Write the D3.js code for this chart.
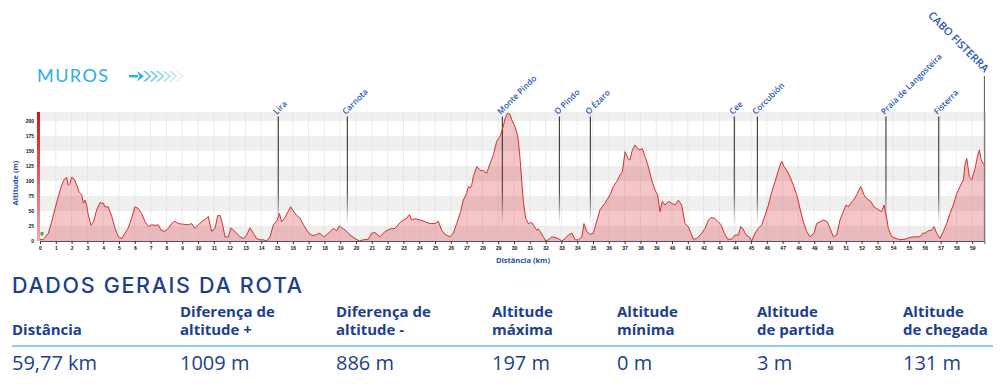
<!DOCTYPE html>
<html><head><meta charset="utf-8">
<script src="https://cdn.jsdelivr.net/npm/d3@7"></script>
<style>
html,body{margin:0;padding:0;background:#fff;}
svg{display:block;}
</style></head>
<body>
<svg id="chart" width="1004" height="390"></svg>
<script>
// ---------- DATA ----------
const distanceKm = [0,0.2,0.53,0.74,0.95,1.16,1.37,1.54,1.69,1.79,1.9,2.0,2.17,2.32,2.49,2.64,2.74,2.85,2.95,3.06,3.23,3.38,3.59,3.8,4.01,4.11,4.32,4.54,4.75,4.96,5.17,5.38,5.59,5.8,6.01,6.22,6.43,6.65,6.86,7.07,7.28,7.49,7.66,7.91,8.12,8.33,8.54,8.76,9.07,9.39,9.6,9.81,10.02,10.23,10.55,10.65,10.86,11.08,11.24,11.39,11.54,11.71,11.92,12.09,12.24,12.45,12.66,12.87,13.08,13.29,13.5,13.71,13.92,14.13,14.35,14.56,14.77,15.02,15.15,15.29,15.5,15.72,15.86,16.03,16.24,16.46,16.67,16.88,17.09,17.3,17.51,17.72,17.93,18.14,18.36,18.57,18.78,18.94,19.16,19.37,19.62,19.94,20.21,20.46,20.78,20.99,21.2,21.52,21.84,22.15,22.47,22.79,23.0,23.21,23.38,23.52,23.73,24.05,24.37,24.68,25.0,25.21,25.42,25.63,25.95,26.16,26.37,26.62,26.79,27.0,27.11,27.21,27.32,27.42,27.64,27.85,28.06,28.27,28.48,28.69,28.9,29.11,29.32,29.43,29.53,29.6,29.75,29.85,30.02,30.17,30.27,30.38,30.49,30.59,30.74,30.91,31.12,31.29,31.44,31.54,31.65,31.86,32.0,32.17,32.38,32.59,32.81,33.02,33.23,33.44,33.66,33.87,34.08,34.29,34.43,34.6,34.81,35.02,35.17,35.44,35.76,36.08,36.29,36.5,36.71,36.86,37.03,37.2,37.34,37.49,37.66,37.83,37.97,38.12,38.29,38.5,38.71,38.92,39.09,39.24,39.39,39.56,39.77,39.98,40.19,40.4,40.61,40.82,41.03,41.2,41.35,41.56,41.88,42.09,42.3,42.47,42.68,42.89,43.1,43.31,43.52,43.78,43.99,44.2,44.35,44.5,44.68,44.89,45.04,45.25,45.46,45.68,45.89,46.1,46.31,46.52,46.73,46.94,47.09,47.26,47.47,47.68,47.89,48.1,48.31,48.52,48.73,48.99,49.15,49.37,49.58,49.83,50.0,50.21,50.42,50.63,50.84,51.01,51.16,51.31,51.48,51.69,51.94,52.15,52.32,52.57,52.78,53.06,53.27,53.42,53.59,53.69,53.9,54.22,54.43,54.75,55.06,55.38,55.7,55.86,56.01,56.22,56.43,56.58,56.75,56.96,57.17,57.38,57.59,57.8,58.02,58.23,58.44,58.54,58.65,58.82,58.97,59.18,59.33,59.46,59.54,59.67,59.77];
const altitudeM = [3,2,13,32,54,74,93,103,106,93,96,106,103,93,81,77,63,68,60,43,26,32,52,64,63,57,57,41,21,7,4,13,22,38,57,54,46,32,24,27,26,27,18,16,21,29,33,29,28,27,29,21,27,32,38,41,16,21,42,43,29,7,7,22,18,13,7,4,10,22,13,4,2,2,0,7,27,35,46,32,39,50,57,50,43,38,27,18,11,9,11,13,7,10,16,21,17,25,21,17,10,4,0,2,3,13,14,7,16,20,21,31,35,38,44,35,37,35,32,29,29,33,18,11,7,13,29,49,68,79,91,88,93,107,124,118,117,113,129,143,166,174,191,204,210,213,211,202,193,182,168,138,99,66,38,29,31,24,18,20,16,7,0,2,7,6,4,0,4,10,13,2,2,7,29,16,11,13,27,52,63,77,91,99,110,116,149,138,135,152,160,154,152,154,141,124,102,85,77,49,66,60,66,63,60,68,60,29,24,13,3,4,13,21,35,39,38,33,27,13,3,3,10,10,24,20,10,7,0,13,21,27,43,60,82,99,118,133,124,118,107,93,77,54,32,16,7,13,29,32,35,32,21,7,10,35,49,60,57,63,68,77,91,77,71,66,57,52,49,60,38,21,7,4,2,3,6,7,7,13,13,17,18,24,13,4,16,29,46,60,79,91,102,127,138,107,102,121,141,152,138,129,128];

const placeNames = ["Lira","Carnota","Monte Pindo","O Pindo","O Ézaro","Cee","Corcubión","Praia de Langosteira","Fisterra"];
const placeKm    = [15.08,19.45,29.26,32.87,34.83,43.94,45.4,53.54,56.88];
const finishName = "CABO FISTERRA";
const finishKm   = 59.77;

const yTicks = [0,25,50,75,100,125,150,175,200];
const xTicks = d3.range(0,60,1);
const bandRanges = [[0,25],[50,75],[100,125],[150,175],[200,215]];

const statHeaders1 = ["","Diferença de","Diferença de","Altitude","Altitude","Altitude","Altitude"];
const statHeaders2 = ["Distância","altitude +","altitude -","máxima","mínima","de partida","de chegada"];
const statValues   = ["59,77 km","1009 m","886 m","197 m","0 m","3 m","131 m"];
const statColX     = [12,180,336,492,617,757,903];

// ---------- DRAW ----------
const svg = d3.select("#chart");
const defs = svg.append("defs");
const blue = "#1c3f8e";

const x = d3.scaleLinear().domain([0, 59.77]).range([40, 984.4]);
const y = d3.scaleLinear().domain([0, 215]).range([241, 112]);

// gradients
const gBar = defs.append("linearGradient").attr("id","gbar").attr("x1",0).attr("y1",0).attr("x2",0).attr("y2",1);
gBar.append("stop").attr("offset","0%").attr("stop-color","#d4111b");
gBar.append("stop").attr("offset","100%").attr("stop-color","#f3a8ac");
const gLine = defs.append("linearGradient").attr("id","gline").attr("gradientUnits","userSpaceOnUse")
  .attr("x1",0).attr("y1",112).attr("x2",0).attr("y2",225);
gLine.append("stop").attr("offset","0%").attr("stop-color","#1a1a1a");
gLine.append("stop").attr("offset","70%").attr("stop-color","#333");
gLine.append("stop").attr("offset","100%").attr("stop-color","#333").attr("stop-opacity",0);

// bands
svg.append("g").selectAll("rect").data(bandRanges).join("rect")
  .attr("x", x(0)).attr("width", x(59.77) - x(0))
  .attr("y", d => y(d[1])).attr("height", d => y(d[0]) - y(d[1]))
  .attr("fill", "#efefef");

// vertical grid
svg.append("g").selectAll("line").data(xTicks.slice(1)).join("line")
  .attr("x1", d => x(d)).attr("x2", d => x(d))
  .attr("y1", y(215)).attr("y2", y(0))
  .attr("stroke", "#e2e2e2").attr("stroke-width", 0.7);

// area + line
const pts = distanceKm.map((d,i) => [d, altitudeM[i]]);
svg.append("path").datum(pts)
  .attr("d", d3.area().x(d => x(d[0])).y0(y(0)).y1(d => y(d[1])))
  .attr("fill", "rgba(222,60,70,0.29)");

// place marker lines
svg.append("g").selectAll("line").data(placeKm).join("line")
  .attr("x1", d => x(d)).attr("x2", d => x(d))
  .attr("y1", 116.5).attr("y2", 225)
  .attr("stroke", "url(#gline)").attr("stroke-width", 1);

svg.append("path").datum(pts)
  .attr("d", d3.line().x(d => x(d[0])).y(d => y(d[1])))
  .attr("fill", "none").attr("stroke", "#d6302a").attr("stroke-width", 1);

// finish line
svg.append("line").attr("x1", x(finishKm)).attr("x2", x(finishKm))
  .attr("y1", 76).attr("y2", 241).attr("stroke", "#555").attr("stroke-width", 1);

// left red bar
svg.append("rect").attr("x", 37).attr("y", y(215)).attr("width", 3).attr("height", y(0) - y(215)).attr("fill", "url(#gbar)");
// green start square
svg.append("rect").attr("x", 40.5).attr("y", 232).attr("width", 3).attr("height", 3.5).attr("fill", "#3cb43c");

// x axis
const xAxis = d3.axisBottom(x).tickValues(xTicks).tickSize(3).tickFormat(d3.format("d"));
const gx = svg.append("g").attr("transform", `translate(0,${y(0)})`).call(xAxis);
gx.select(".domain").attr("stroke", "#555");
gx.selectAll(".tick line").attr("stroke", "#333");
gx.selectAll("text").attr("font-family","Liberation Sans, Arial").attr("font-size", 5).attr("font-weight","bold").attr("fill","#111").attr("dy","0.55em");

// y axis labels
const yAxis = d3.axisLeft(y).tickValues(yTicks).tickSize(0).tickPadding(3);
const gy = svg.append("g").attr("transform", "translate(37,0)").call(yAxis);
gy.select(".domain").remove();
gy.selectAll("text").attr("font-family","Liberation Sans, Arial").attr("font-size", 5).attr("font-weight","bold").attr("fill","#111");

// right border
svg.append("line").attr("x1", 985).attr("x2", 985).attr("y1", y(215)).attr("y2", y(0)).attr("stroke","#999").attr("stroke-width",0.8);

// axis titles
svg.append("text").attr("transform","translate(18,183) rotate(-90)").attr("text-anchor","middle")
  .attr("font-family","Open Sans, sans-serif").attr("font-weight","bold").attr("font-size",7.5).attr("fill","#2451a8")
  .text("Altitude (m)");
svg.append("text").attr("x", 523).attr("y", 263).attr("text-anchor","middle")
  .attr("font-family","Open Sans, sans-serif").attr("font-weight","bold").attr("font-size",7.5).attr("fill","#2451a8")
  .text("Distância (km)");

// place labels
svg.append("g").selectAll("text").data(placeNames).join("text")
  .attr("transform", (d,i) => `translate(${x(placeKm[i]) - 1.5},${115}) rotate(-45)`)
  .attr("font-family","Open Sans, sans-serif").attr("font-weight",600).attr("font-size",8.3).attr("fill","#2a58b4")
  .text(d => d);
svg.append("text").attr("transform", `translate(${x(finishKm)},${73}) rotate(45)`).attr("text-anchor","end")
  .attr("font-family","Open Sans, sans-serif").attr("font-weight",600).attr("font-size",10.8).attr("fill","#2a58b4")
  .text(finishName);

// MUROS header
svg.append("text").attr("x", 37).attr("y", 82).attr("font-family","Lato, sans-serif").attr("font-size", 18)
  .attr("fill","#29aee6").attr("textLength",71).attr("lengthAdjust","spacing").text("MUROS");
const arrowG = svg.append("g").attr("fill","#29aee6");
arrowG.append("rect").attr("x",129).attr("y",75).attr("width",9).attr("height",2.4);
arrowG.append("path").attr("d","M137,71 L144,76.2 L137,81.4 L139.5,76.2 Z");
[0,1,2,3,4,5].forEach(i => {
  const x0 = 143 + i*6.5;
  arrowG.append("path").attr("d",`M${x0},71 L${x0+6},76.2 L${x0},81.4 L${x0+2.5},81.4 L${x0+8.5},76.2 L${x0+2.5},71 Z`)
    .attr("opacity", 0.75 - i*0.12);
});

// summary table
svg.append("text").attr("x", 12).attr("y", 293).attr("font-family","Inter, Lato, sans-serif").attr("font-weight",500).attr("font-size", 21.5)
  .attr("fill", blue).attr("textLength", 290).attr("lengthAdjust","spacing").text("DADOS GERAIS DA ROTA");
const cols = svg.append("g").selectAll("g").data(statColX).join("g");
cols.append("text").attr("x", d => d).attr("y", 317).attr("font-family","Open Sans, sans-serif").attr("font-weight","bold")
  .attr("font-size", 15).attr("fill", blue).text((d,i) => statHeaders1[i]);
cols.append("text").attr("x", d => d).attr("y", 335).attr("font-family","Open Sans, sans-serif").attr("font-weight","bold")
  .attr("font-size", 15).attr("fill", blue).text((d,i) => statHeaders2[i]);
cols.append("text").attr("x", d => d).attr("y", 370).attr("font-family","Open Sans, sans-serif").attr("font-weight",500)
  .attr("font-size", 20).attr("fill", blue).text((d,i) => statValues[i]);
svg.append("line").attr("x1", 12).attr("x2", 993).attr("y1", 346).attr("y2", 346).attr("stroke","#1f9fe3").attr("stroke-width",1.2);
</script>
</body></html>
